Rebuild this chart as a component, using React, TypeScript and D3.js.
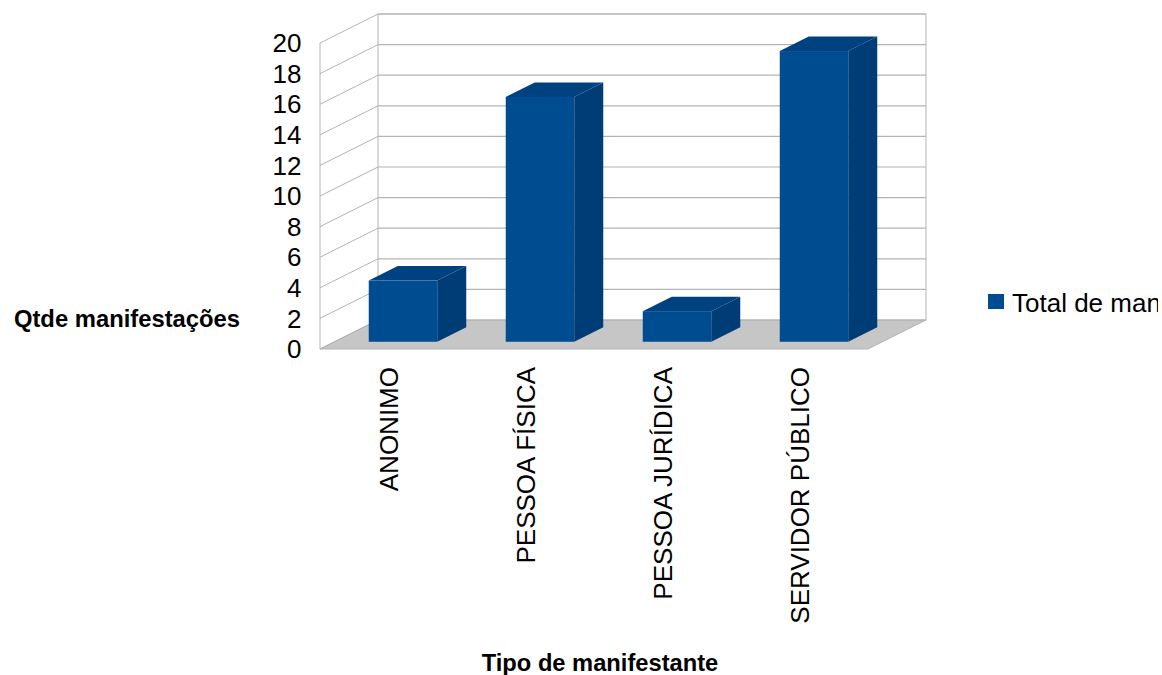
import React from "react";
import * as d3 from "d3";

const categories = ["ANONIMO", "PESSOA FÍSICA", "PESSOA JURÍDICA", "SERVIDOR PÚBLICO"];
const values = [4, 16, 2, 19];
const yTicks = [0, 2, 4, 6, 8, 10, 12, 14, 16, 18, 20];
const legendLabel = "Total de manifestações";
const yTitle = "Qtde manifestações";
const xTitle = "Tipo de manifestante";

const WIDTH = 1162, HEIGHT = 675;
const DX = 58, DY = -29;
const x = d3.scaleBand<string>().domain(categories).range([320, 868]).paddingInner(0).paddingOuter(0);
const y = d3.scaleLinear().domain([0, 20]).range([349, 43]);
const FONT = "'Liberation Sans', Arial, sans-serif";
const GRID = "#b3b3b3";

const pts = (p: [number, number][]) => p.map(d => d.join(",")).join(" ");

export default function App() {
  const floorY = y(0);
  const bw = x.bandwidth() * 0.5;
  const barOffX = DX * 0.25, barOffY = DY * 0.25; // front plane of the bars
  const barDX = DX * 0.5, barDY = DY * 0.5;
  return (
    <svg width={WIDTH} height={HEIGHT} viewBox={`0 0 ${WIDTH} ${HEIGHT}`}
      style={{ position: "absolute", left: 0, top: 0, background: "#fff" }} fontFamily={FONT}>
      <defs>
        <clipPath id="page"><rect x={0} y={0} width={1158} height={HEIGHT} /></clipPath>
      </defs>
      <polygon points={pts([[320 + DX, y(0) + DY], [868 + DX, y(0) + DY], [868, y(0)], [320, y(0)]])}
        fill="#c6c6c6" stroke={GRID} strokeWidth={1} />
      <rect x={320 + DX} y={y(20) + DY} width={548} height={y(0) - y(20)} fill="none" stroke={GRID} strokeWidth={1} />
      <line x1={320} x2={320} y1={y(0)} y2={y(20)} stroke={GRID} />
      {yTicks.map(t => (
        <g key={t}>
          {t > 0 && <line x1={320 + DX} x2={868 + DX} y1={y(t) + DY} y2={y(t) + DY} stroke={GRID} strokeWidth={1.2} />}
          <line x1={320} x2={320 + DX} y1={y(t)} y2={y(t) + DY} stroke={GRID} strokeWidth={1} />
          <text x={301.5} y={y(t)} dy="0.35em" textAnchor="end" fontSize={26} fill="#000">{t}</text>
        </g>
      ))}
      {categories.map((c, i) => {
        const left = x(c)! + (x.bandwidth() - bw) / 2 + barOffX;
        const bottom = floorY + barOffY;
        const top = bottom - (y(0) - y(values[i]));
        const right = left + bw;
        return (
          <g key={c}>
            <polygon points={pts([[left, top], [right, top], [right + barDX, top + barDY], [left + barDX, top + barDY]])} fill="#00427f" />
            <polygon points={pts([[right, top], [right + barDX, top + barDY], [right + barDX, bottom + barDY], [right, bottom]])} fill="#003c75" />
            <rect x={left} y={top} width={bw} height={bottom - top} fill="#004c90" />
          </g>
        );
      })}
      {categories.map(c => {
        const cx = x(c)! + x.bandwidth() / 2;
        return (
          <text key={c} transform={`translate(${cx},367) rotate(-90)`} textAnchor="end" dy="0.35em"
            fontSize={26} fill="#000">{c}</text>
        );
      })}
      <text x={127} y={319} dy="0.35em" textAnchor="middle" fontSize={23.8} fontWeight="bold" fill="#000">{yTitle}</text>
      <text x={600} y={663} dy="0.35em" textAnchor="middle" fontSize={23.7} fontWeight="bold" fill="#000">{xTitle}</text>
      <g clipPath="url(#page)">
        <rect x={988} y={294} width={16} height={15} fill="#004c90" />
        <text x={1012} y={303} dy="0.35em" fontSize={26} fill="#000">{legendLabel}</text>
      </g>
    </svg>
  );
}
